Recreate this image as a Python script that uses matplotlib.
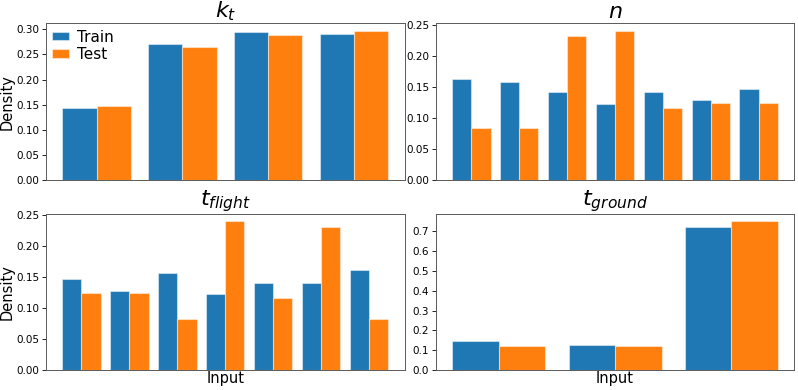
import numpy as np
import matplotlib
matplotlib.use('Agg')
import matplotlib.pyplot as plt
from matplotlib.ticker import MultipleLocator

# === Data ===
kt_train = [0.143, 0.270, 0.294, 0.291]
kt_test = [0.148, 0.264, 0.288, 0.297]

n_train = [0.162, 0.157, 0.141, 0.122, 0.141, 0.128, 0.147]
n_test = [0.083, 0.083, 0.231, 0.240, 0.116, 0.124, 0.124]

tflight_train = [0.147, 0.128, 0.157, 0.122, 0.141, 0.141, 0.162]
tflight_test = [0.124, 0.124, 0.083, 0.240, 0.116, 0.231, 0.083]

tground_train = [0.147, 0.128, 0.722]
tground_test = [0.123, 0.123, 0.750]

titles = ['$k_t$', '$n$', '$t_{flight}$', '$t_{ground}$']
train_sets = [kt_train, n_train, tflight_train, tground_train]
test_sets = [kt_test, n_test, tflight_test, tground_test]
tick_steps = [0.05, 0.05, 0.05, 0.1]

# === Figure ===
fig = plt.figure(figsize=(7.98, 3.90), dpi=100)
rects = [
    [0.0576, 0.5385, 0.4494, 0.4015],
    [0.5464, 0.5385, 0.4486, 0.4015],
    [0.0576, 0.0513, 0.4494, 0.4000],
    [0.5464, 0.0513, 0.4486, 0.4000],
]

width = 0.4
edge = (1, 1, 1, 0.45)
for i, (rect, title, tr, te) in enumerate(zip(rects, titles, train_sets, test_sets)):
    ax = fig.add_axes(rect)
    x = np.arange(len(tr))
    ax.bar(x - width / 2, tr, width, color='tab:blue', edgecolor=edge,
           linewidth=0.8, label='Train')
    ax.bar(x + width / 2, te, width, color='tab:orange', edgecolor=edge,
           linewidth=0.8, label='Test')
    ax.set_title(title, fontsize=16, pad=4)
    ax.set_xticks([])
    ax.yaxis.set_major_locator(MultipleLocator(tick_steps[i]))
    ax.tick_params(axis='y', labelsize=7.5, length=3, width=0.6, pad=2)
    for s in ax.spines.values():
        s.set_linewidth(0.7)
        s.set_color('0.35')
    if i % 2 == 0:
        ax.set_ylabel('Density', fontsize=10.5)
        ax.yaxis.set_label_coords(-0.087, 0.5)
    if i >= 2:
        ax.set_xlabel('Input', fontsize=10.5, labelpad=1)
    if i == 0:
        ax.legend(loc='upper left', frameon=False, fontsize=11,
                  handlelength=1.1, handleheight=0.5, handletextpad=0.5,
                  labelspacing=0.15, borderaxespad=0.1, borderpad=0.3)

plt.savefig('out.png', dpi=100)
